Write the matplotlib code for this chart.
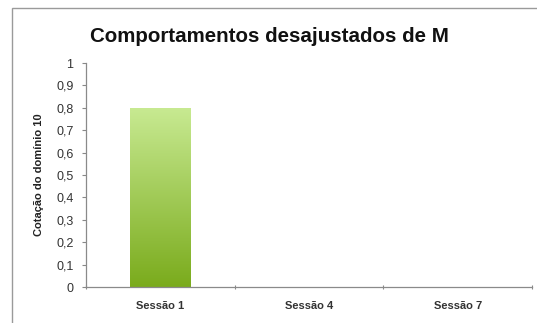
import matplotlib.pyplot as plt
import numpy as np
from matplotlib.patches import Rectangle
from matplotlib.colors import LinearSegmentedColormap

# dados
sessoes = ['Sessão 1', 'Sessão 4', 'Sessão 7']
cotacao = [0.8, 0.0, 0.0]
y_ticks = [0, 0.1, 0.2, 0.3, 0.4, 0.5, 0.6, 0.7, 0.8, 0.9, 1]

plt.rcParams['font.family'] = ['Liberation Sans', 'DejaVu Sans']

fig = plt.figure(figsize=(5.37, 3.23), dpi=100)
W, H = 537, 323
ax = fig.add_axes([86 / W, (H - 287) / H, (532 - 86) / W, (287 - 63) / H])

# moldura exterior (cortada à direita e em baixo)
fig.patches.append(Rectangle((12 / W, -0.1), 1.2, 1.1 - 8 / H, transform=fig.transFigure,
                             fill=False, edgecolor='#9a9a9a', linewidth=1.0))

x = np.arange(len(sessoes))
largura = 0.41
barras = ax.bar(x, cotacao, width=largura, color='none', edgecolor='none')

# gradiente verde nas barras
cmap = LinearSegmentedColormap.from_list('verde', ['#7aab1c', '#c8ea92'])
grad = np.linspace(0, 1, 256).reshape(-1, 1)
for b in barras:
    if b.get_height() <= 0:
        continue
    x0, w, h = b.get_x(), b.get_width(), b.get_height()
    im = ax.imshow(grad, cmap=cmap, origin='lower', aspect='auto',
                   extent=[x0, x0 + w, 0, h], zorder=2)
    im.set_clip_path(b)

ax.set_xlim(-0.5, len(sessoes) - 0.5)
ax.set_ylim(0, 1)

ax.set_yticks(y_ticks)
ax.set_yticklabels([f'{v:g}'.replace('.', ',') for v in y_ticks], fontsize=9, color='#333333')
ax.tick_params(axis='y', length=3, width=0.8, color='#888888', pad=6)

ax.set_xticks(x)
ax.set_xticklabels(sessoes, fontsize=8, fontweight='bold', color='#333333')
ax.set_xticks(np.arange(len(sessoes) + 1) - 0.5, minor=True)
ax.tick_params(axis='x', which='major', length=0, pad=10)
ax.tick_params(axis='x', which='minor', length=3, width=0.8, color='#888888', direction='inout')

for s in ['top', 'right']:
    ax.spines[s].set_visible(False)
for s in ['left', 'bottom']:
    ax.spines[s].set_color('#8a8a8a')
    ax.spines[s].set_linewidth(0.9)

ax.set_ylabel('Cotação do domínio 10', fontsize=8, fontweight='bold', color='#222222', labelpad=9)
fig.text(269 / W, 1 - 37 / H, 'Comportamentos desajustados de M', ha='center', va='center',
         fontsize=14.8, fontweight='bold', color='#111111')

fig.savefig('out.png', dpi=100)
